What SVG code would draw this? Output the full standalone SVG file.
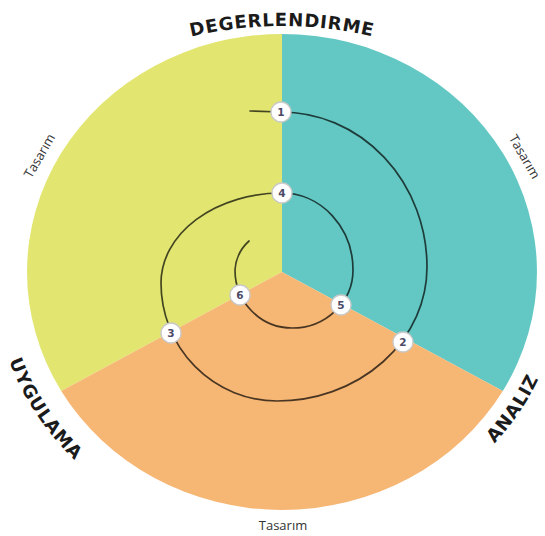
<svg xmlns="http://www.w3.org/2000/svg" width="545" height="536" viewBox="0 0 545 536">
  <style>
    .phase { font-family: "DejaVu Sans", "Liberation Sans", sans-serif; font-weight: bold; font-size: 18px; letter-spacing: 0.8px; fill: #1b1b1b; }
    .sub { font-family: "Open Sans", "Liberation Sans", sans-serif; font-size: 13px; fill: #333; }
    .spiral { fill: none; stroke: #000; stroke-opacity: 0.7; stroke-width: 1.7; stroke-linecap: round; }
    .step circle { fill: #fff; stroke: #c9c9c9; stroke-width: 1.3; }
    .step text { font-family: "DejaVu Sans", "Liberation Sans", sans-serif; font-weight: bold; font-size: 10.5px; fill: #4a4a66; text-anchor: middle; }
  </style>
  <defs>
    <path id="arcTop" d="M132,55.8 A393,393 0 0 1 432,55.8"/>
    <path id="arcLeft" d="M-5.9,295.5 A289,270 0 0 0 159.9,516.7"/>
    <path id="arcRight" d="M400.8,509.4 A281,262 0 0 0 561.9,294.8"/>
  </defs>

  <rect width="545" height="536" fill="#fff"/>

  <!-- three phase sectors -->
  <g id="sectors">
    <path id="sector-yellow" d="M282,272 L282,34 A255,238 0 0 0 61.2,391 Z" fill="#e2e671"/>
    <path id="sector-teal" d="M282,272 L282,34 A255,238 0 0 1 502.8,391 Z" fill="#63c8c3"/>
    <path id="sector-orange" d="M282,272 L502.8,391 A255,238 0 0 1 61.2,391 Z" fill="#f6b674"/>
  </g>

  <!-- phase titles -->
  <g id="titles">
    <text class="phase"><textPath href="#arcTop" startOffset="50%" text-anchor="middle">DEGERLENDIRME</textPath></text>
    <text class="phase"><textPath href="#arcLeft" startOffset="44%" text-anchor="middle">UYGULAMA</textPath></text>
    <text class="phase"><textPath href="#arcRight" startOffset="55%" text-anchor="middle">ANALIZ</textPath></text>
    <text class="sub" text-anchor="middle" transform="translate(40,156) rotate(-60)" dy="4">Tasarım</text>
    <text class="sub" text-anchor="middle" transform="translate(524,157) rotate(60)" dy="4">Tasarım</text>
    <text class="sub" x="283" y="530" text-anchor="middle">Tasarım</text>
  </g>

  <!-- spiral path connecting the steps -->
  <g id="connectors">
    <path class="spiral" d="M250,111 L281,112
      A146,155 0 0 1 427,267
      A150,134 0 0 1 277,401
      A116,118 0 0 1 161,283
      A121,90 0 0 1 282,193
      A71,77 0 0 1 353,270
      A61,58 0 0 1 292,328
      A57,58 0 0 1 235,270
      A43,43 0 0 1 249,241"/>
  </g>

  <!-- numbered steps -->
  <g id="step-1" class="step"><circle cx="281" cy="112" r="10"/><text x="281" y="115.8">1</text></g>
  <g id="step-2" class="step"><circle cx="403" cy="342" r="10"/><text x="403" y="345.8">2</text></g>
  <g id="step-3" class="step"><circle cx="171" cy="333" r="10"/><text x="171" y="336.8">3</text></g>
  <g id="step-4" class="step"><circle cx="282" cy="193" r="10"/><text x="282" y="196.8">4</text></g>
  <g id="step-5" class="step"><circle cx="341" cy="305" r="10"/><text x="341" y="308.8">5</text></g>
  <g id="step-6" class="step"><circle cx="240" cy="295" r="10"/><text x="240" y="298.8">6</text></g>
</svg>
